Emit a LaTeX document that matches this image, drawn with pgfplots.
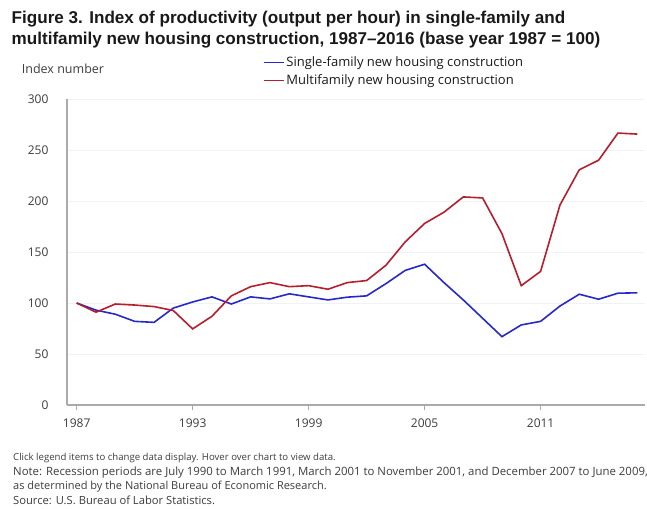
\documentclass[border=0pt]{standalone}
\usepackage{pgfplots}
\pgfplotsset{compat=1.18}
\usepackage{fontspec}
\setmainfont{Open Sans}
\newfontfamily\titlefont{Liberation Sans}

\definecolor{sfblue}{RGB}{40,40,200}
\definecolor{mfred}{RGB}{180,30,45}
\definecolor{axisgray}{RGB}{170,170,170}
\definecolor{txtgray}{RGB}{60,60,60}

\pgfplotstableread{
year single multi
1987 100   100
1988 93    91
1989 89    99
1990 82    98
1991 81    96.5
1992 95    92.6
1993 101   74.6
1994 106   87
1995 99    107
1996 106   116
1997 104   120
1998 109   116
1999 106   117
2000 103   113.5
2001 105.7 120
2002 107   122
2003 119   137
2004 132   160
2005 138   178
2006 120   189
2007 103   204
2008 85    203
2009 67    168
2010 78.5  117
2011 82    131
2012 97    196
2013 108.6 230.6
2014 103.7 240
2015 109.6 266.6
2016 110   265.6
}\prodtable

\begin{document}
\begin{tikzpicture}
\path[use as bounding box, clip] (0,0) rectangle (647pt,508pt);

% title
\node[anchor=base west, inner sep=0pt, font=\titlefont\bfseries\fontsize{17.1}{20}\selectfont, text=black!90]
  at (11.5pt,484pt) {Figure 3. Index of productivity (output per hour) in single-family and};
\node[anchor=base west, inner sep=0pt, font=\titlefont\bfseries\fontsize{17.1}{20}\selectfont, text=black!90]
  at (11.5pt,463pt) {multifamily new housing construction, 1987–2016 (base year 1987 = 100)};

\node[anchor=base west, inner sep=0pt, font=\fontsize{12.5}{14}\selectfont, text=txtgray]
  at (21.7pt,434pt) {Index number};

\begin{axis}[
    at={(67pt,103pt)}, anchor=south west,
    scale only axis,
    width=578pt, height=306pt,
    xmin=1986.5, xmax=2016.4,
    ymin=0, ymax=300,
    axis x line=bottom, axis y line=left,
    axis line style={draw=axisgray, line width=1.3pt, -},
    xtick={1987,1993,1999,2005,2011},
    ytick={0,50,100,150,200,250,300},
    x tick label style={/pgf/number format/1000 sep={}},
    /pgf/number format/assume math mode=true,
    tick label style={font=\fontsize{12}{14}\selectfont, text=txtgray},
    xtick style={draw=axisgray, line width=1pt},
    ytick style={draw=none},
    tick align=outside,
    major tick length=5pt,
    ymajorgrids=true,
    grid style={draw=black!5, line width=0.8pt},
    yticklabel style={xshift=-10pt},
    xticklabel style={yshift=-5pt},
    legend style={at={(0.3386,1.145)}, anchor=north west, draw=none, fill=none,
      font=\fontsize{13}{15}\selectfont, text=black!90,
      row sep=2.5pt, inner sep=0pt},
    legend cell align=left,
    legend image code/.code={\draw[#1, line width=1.5pt] (0pt,0pt) -- (20pt,0pt);},
]
\addplot[sfblue, line width=1.6pt] table[x=year, y=single] {\prodtable};
\addlegendentry{Single-family new housing construction}
\addplot[mfred, line width=1.6pt] table[x=year, y=multi] {\prodtable};
\addlegendentry{Multifamily new housing construction}
\end{axis}

% notes
\begin{scope}[every node/.style={anchor=base west, inner sep=0pt, text=txtgray}]
\node[font=\fontsize{9.6}{11}\selectfont] at (13pt,47pt) {Click legend items to change data display. Hover over chart to view data.};
\node[font=\fontsize{11.4}{13}\selectfont] at (13pt,32pt) {Note: Recession periods are July 1990 to March 1991, March 2001 to November 2001, and December 2007 to June 2009,};
\node[font=\fontsize{11}{13}\selectfont] at (13pt,18pt) {as determined by the National Bureau of Economic Research.};
\node[font=\fontsize{11.2}{13}\selectfont] at (13pt,3.5pt) {Source: U.S. Bureau of Labor Statistics.};
\end{scope}
\end{tikzpicture}
\end{document}
